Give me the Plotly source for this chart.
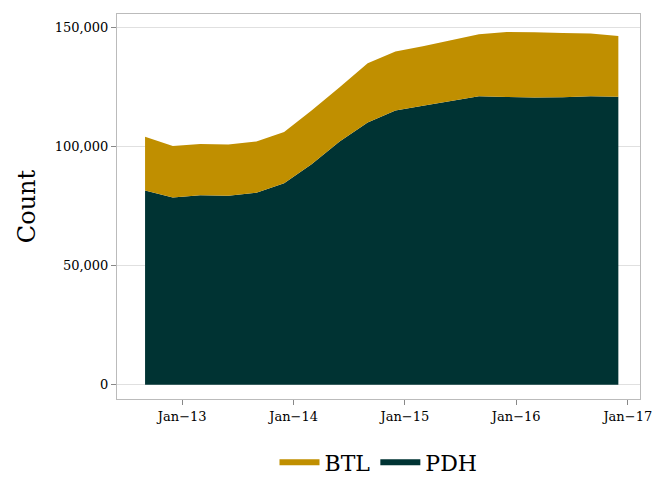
import plotly.graph_objects as go

dates = ["2012-09-01","2012-12-01","2013-03-01","2013-06-01","2013-09-01","2013-12-01",
         "2014-03-01","2014-06-01","2014-09-01","2014-12-01","2015-03-01","2015-06-01",
         "2015-09-01","2015-12-01","2016-03-01","2016-06-01","2016-09-01","2016-12-01"]
pdh = [81500,78500,79500,79300,80500,84500,92500,102000,110000,115000,117000,119000,
       121000,120700,120500,120600,121000,120800]
total = [104000,100100,101000,100800,102000,106000,115000,124800,134800,139800,142000,144500,
         147000,148000,147800,147500,147300,146300]
btl = [t - p for t, p in zip(total, pdh)]

fig = go.Figure()
fig.add_trace(go.Scatter(x=dates, y=pdh, name="PDH", stackgroup="one", mode="none",
                         fillcolor="#003333", line=dict(width=0)))
fig.add_trace(go.Scatter(x=dates, y=btl, name="BTL", stackgroup="one", mode="none",
                         fillcolor="#C08F00", line=dict(width=0)))
fig.update_layout(
    width=670, height=477, paper_bgcolor="white", plot_bgcolor="white",
    margin=dict(l=109, r=38, t=6, b=86, autoexpand=False),
    font=dict(family="DejaVu Serif", size=14, color="black"),
    legend=dict(orientation="h", x=0.5, xanchor="center", y=-0.11, yanchor="top",
                traceorder="reversed", font=dict(size=22), itemwidth=40),
)
fig.update_xaxes(range=["2012-06-01","2017-02-10"], tickvals=["2013-01-01","2014-01-01","2015-01-01","2016-01-01","2017-01-01"],
                 ticktext=["Jan−13","Jan−14","Jan−15","Jan−16","Jan−17"],
                 showline=True, mirror=True, linecolor="#bbbbbb", ticks="outside",
                 tickcolor="#888888", showgrid=False, tickfont=dict(size=13))
fig.update_yaxes(title=dict(text="Count", font=dict(size=24), standoff=12), range=[-6000, 155500],
                 tickvals=[0,50000,100000,150000], tickformat=",",
                 showline=True, mirror=True, linecolor="#bbbbbb", ticks="outside",
                 tickcolor="#888888", gridcolor="#e0e0e0", zeroline=False, tickfont=dict(size=13))
fig.write_html("out.html")
